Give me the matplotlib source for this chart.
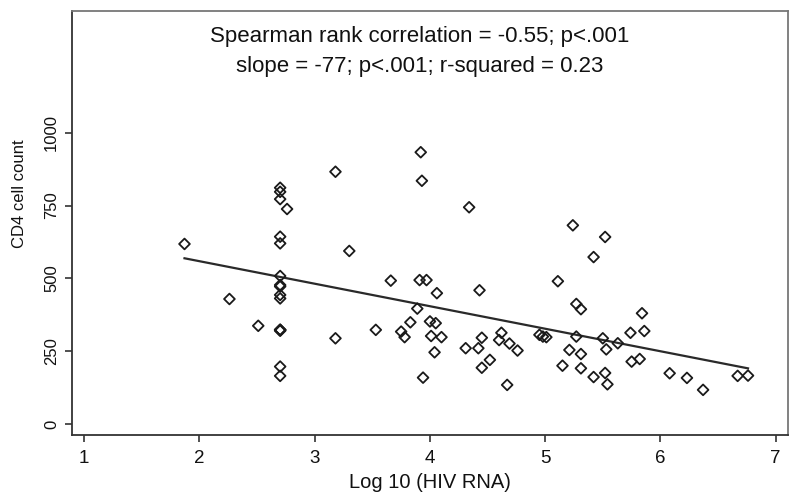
import matplotlib
matplotlib.use("Agg")
from matplotlib import pyplot as plt
import numpy as np

plt.rcParams['font.family'] = ['Liberation Sans', 'DejaVu Sans']

# log10 HIV RNA (x) and CD4 cell count (y)
log_rna = [1.87, 2.26, 2.51, 2.76,
           2.70, 2.70, 2.70, 2.70, 2.70, 2.70, 2.70, 2.70, 2.70, 2.70,
           2.70, 2.70, 2.70, 2.70, 2.70, 2.70,
           3.18, 3.18, 3.30, 3.53, 3.66, 3.75, 3.78, 3.83, 3.89, 3.91,
           3.92, 3.93, 3.94, 3.97, 4.00, 4.01, 4.05, 4.04, 4.06, 4.10,
           4.31, 4.34, 4.42, 4.43, 4.45, 4.45, 4.52, 4.60, 4.62, 4.67,
           4.69, 4.76, 4.95, 4.98, 5.01,
           5.11, 5.15, 5.21, 5.24, 5.27, 5.27, 5.31, 5.31, 5.31, 5.42,
           5.42, 5.50, 5.52, 5.52, 5.53, 5.54, 5.63, 5.74, 5.75, 5.82,
           5.84, 5.86, 6.08, 6.23, 6.37, 6.67, 6.76]
cd4 = [618, 429, 337, 738,
       811, 797, 772, 643, 620, 508, 477, 472, 443, 431, 323, 323,
       323, 320, 197, 165,
       866, 294, 594, 323, 492, 317, 298, 349, 396, 494,
       933, 835, 159, 494, 352, 302, 346, 246, 449, 298,
       260, 744, 260, 459, 296, 193, 220, 288, 313, 134,
       276, 252, 306, 300, 298,
       490, 200, 254, 682, 412, 300, 394, 240, 191, 573,
       161, 294, 642, 175, 256, 136, 277, 313, 214, 223,
       380, 319, 174, 158, 117, 165, 166]

# fitted line from the picture
slope = -77.3
intercept = 713.4

x_ticks = [1, 2, 3, 4, 5, 6, 7]
y_ticks = [0, 250, 500, 750, 1000]

fig = plt.figure(figsize=(8, 4.95), dpi=100)
ax = fig.add_axes([0.0896, 0.1218, 0.8954, 0.856])

ax.scatter(log_rna, cd4, marker='D', s=30, facecolors='none',
           edgecolors='#1a1a1a', linewidths=1.3, zorder=3)

xfit = np.array([min(log_rna), max(log_rna)])
ax.plot(xfit, intercept + slope * xfit, color='#2a2a2a', lw=1.6, zorder=2)

ax.set_xlim(0.891, 7.107)
ax.set_ylim(-37, 1418)
ax.set_xticks(x_ticks)
ax.set_yticks(y_ticks)
ax.set_yticklabels([str(v) for v in y_ticks], rotation=90, va='center')
ax.tick_params(axis='both', direction='out', length=5, width=1.2,
               colors='#333333', labelcolor='#111111')
ax.tick_params(axis='x', pad=6, labelsize=13.5)
ax.tick_params(axis='y', pad=4, labelsize=12)

for s in ax.spines.values():
    s.set_linewidth(1.3)
    s.set_color('#333333')
ax.spines['top'].set_color('#777777')
ax.spines['right'].set_color('#777777')

ax.set_xlabel('Log 10 (HIV RNA)', fontsize=14.5, color='#111111')
ax.set_ylabel('CD4 cell count', fontsize=12, color='#111111')
ax.yaxis.set_label_coords(-0.062, 0.57)
ax.xaxis.set_label_coords(0.5, -0.09)

ax.text(0.486, 0.94, 'Spearman rank correlation = -0.55; p<.001',
        transform=ax.transAxes, ha='center', va='center', fontsize=16,
        color='#111111')
ax.text(0.486, 0.87, 'slope = -77; p<.001; r-squared = 0.23',
        transform=ax.transAxes, ha='center', va='center', fontsize=16,
        color='#111111')

fig.savefig('out.png', dpi=100)
